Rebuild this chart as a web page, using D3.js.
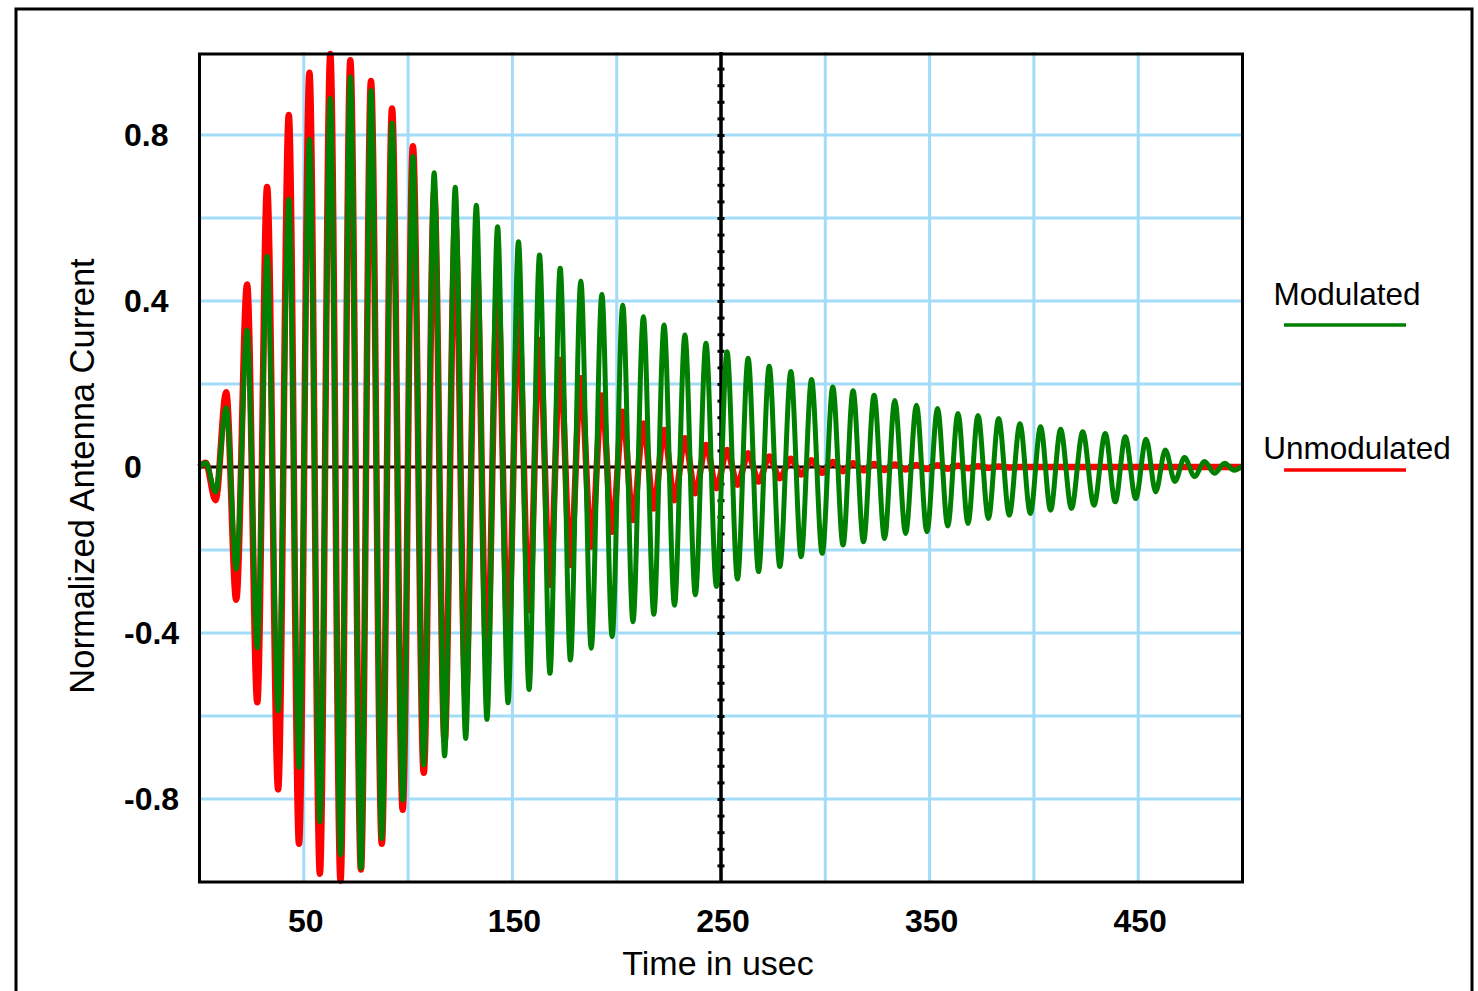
<!DOCTYPE html>
<html>
<head>
<meta charset="utf-8">
<script src="https://cdn.jsdelivr.net/npm/d3@7"></script>
<style>
body { margin: 0; background: #fff; }
text { font-family: "Liberation Sans", Arial, sans-serif; }
</style>
</head>
<body>
<script>
// times of each swing (usec) and the swing values
var times = [0, 3, 7.7, 12.8, 17.6, 22.8, 27.7, 32.4, 37.7, 42.8,
	47.7, 52.7, 57.7, 62.7, 67.6, 72.3, 77.4, 82.2, 87.4, 92.3,
	97.4, 102.3, 107.5, 112.5, 117.5, 122.6, 127.6, 132.7, 137.8, 142.9,
	147.9, 152.9, 158, 163, 168, 172.9, 177.8, 182.8, 187.8, 192.9,
	197.8, 202.9, 207.8, 212.8, 217.8, 222.7, 227.7, 232.7, 237.7, 242.8,
	247.8, 252.9, 257.9, 263, 268, 273.1, 278.2, 283.5, 288.4, 293.4,
	298.5, 303.6, 308.5, 313.3, 318.3, 323.4, 328.4, 333.3, 338.5, 343.7,
	348.7, 353.8, 358.7, 363.6, 368.4, 373.2, 378.2, 383.1, 388.2, 393.3,
	398.3, 403.2, 408, 412.8, 418, 423.4, 428.8, 434.2, 439, 443.8,
	448.8, 453.8, 458.4, 463, 467.6, 472.2, 477, 481.8, 486.6, 491.4,
	496, 500];

var modulated = [0, 0.01, -0.06, 0.143, -0.246, 0.33, -0.436, 0.508, -0.587, 0.645,
	-0.724, 0.79, -0.855, 0.888, -0.934, 0.94, -0.967, 0.907, -0.895, 0.829,
	-0.803, 0.748, -0.718, 0.709, -0.696, 0.674, -0.654, 0.631, -0.608, 0.579,
	-0.568, 0.543, -0.536, 0.511, -0.497, 0.479, -0.465, 0.448, -0.437, 0.416,
	-0.409, 0.39, -0.373, 0.362, -0.355, 0.342, -0.333, 0.318, -0.308, 0.298,
	-0.288, 0.278, -0.27, 0.262, -0.252, 0.243, -0.24, 0.23, -0.216, 0.211,
	-0.208, 0.193, -0.188, 0.184, -0.18, 0.173, -0.172, 0.16, -0.16, 0.149,
	-0.156, 0.141, -0.142, 0.129, -0.136, 0.124, -0.124, 0.117, -0.116, 0.104,
	-0.112, 0.097, -0.104, 0.091, -0.1, 0.085, -0.092, 0.081, -0.084, 0.073,
	-0.076, 0.067, -0.06, 0.041, -0.035, 0.023, -0.023, 0.013, -0.015, 0.009,
	-0.008, 0.003];

var unmodulated = [0, 0.01, -0.08, 0.18, -0.32, 0.44, -0.567, 0.675, -0.777, 0.848,
	-0.908, 0.95, -0.98, 0.995, -0.997, 0.98, -0.97, 0.93, -0.908, 0.864,
	-0.826, 0.773, -0.737, 0.663, -0.66, 0.59, -0.56, 0.507, -0.481, 0.44,
	-0.417, 0.37, -0.345, 0.306, -0.284, 0.258, -0.236, 0.214, -0.192, 0.172,
	-0.156, 0.133, -0.128, 0.105, -0.1, 0.089, -0.08, 0.069, -0.063, 0.053,
	-0.051, 0.041, -0.043, 0.033, -0.035, 0.025, -0.027, 0.02, -0.018, 0.016,
	-0.014, 0.012, -0.01, 0.009, -0.008, 0.007, -0.007, 0.006, -0.006, 0.005,
	-0.005, 0.004, -0.004, 0.003, -0.003, 0.002, -0.002, 0.001, -0.001, 0,
	0, 0, 0, 0, 0, 0, 0, 0, 0, 0,
	0, 0, 0, 0, 0, 0, 0, 0, 0, 0,
	0, 0];

var xTicks = [50, 150, 250, 350, 450];
var yTicks = [0.8, 0.4, 0, -0.4, -0.8];
var xGrid = [50, 100, 150, 200, 250, 300, 350, 400, 450];
var yGrid = [0.8, 0.6, 0.4, 0.2, -0.2, -0.4, -0.6, -0.8];
var series = [
	{name: "Unmodulated", values: unmodulated, color: "#ff0000", width: 6.5},
	{name: "Modulated", values: modulated, color: "#008000", width: 5}
];

var W = 1478, H = 991;
var pLeft = 199.5, pRight = 1242.5, pTop = 52, pBottom = 882;

var x = d3.scaleLinear().domain([0, 500]).range([pLeft, pRight]);
var y = d3.scaleLinear().domain([-1, 1]).range([pBottom, pTop]);

var svg = d3.select("body").append("svg")
	.attr("width", W)
	.attr("height", H);

// outer frame (runs off the bottom of the page)
svg.append("rect")
	.attr("x", 16).attr("y", 9)
	.attr("width", 1456).attr("height", 1000)
	.style("fill", "none").style("stroke", "#000").style("stroke-width", 3);

// grid
svg.selectAll(".vgrid").data(xGrid).enter().append("line")
	.attr("class", "vgrid")
	.attr("x1", d => x(d)).attr("x2", d => x(d))
	.attr("y1", pTop).attr("y2", pBottom)
	.style("stroke", "#a3dcf7").style("stroke-width", 3);
svg.selectAll(".hgrid").data(yGrid).enter().append("line")
	.attr("class", "hgrid")
	.attr("x1", pLeft).attr("x2", pRight)
	.attr("y1", d => y(d)).attr("y2", d => y(d))
	.style("stroke", "#a3dcf7").style("stroke-width", 3);

// axes through the middle: zero line and the 250 usec line, both with minor ticks
var zeroAxis = svg.append("g")
	.attr("transform", "translate(0," + y(0) + ")")
	.call(d3.axisBottom(x).tickValues(d3.range(10, 500, 10)).tickSize(3).tickFormat(""));
zeroAxis.select(".domain").remove();
zeroAxis.selectAll(".tick line").attr("y1", -3).style("stroke-width", 2);
svg.append("line")
	.attr("x1", pLeft).attr("x2", pRight)
	.attr("y1", y(0)).attr("y2", y(0))
	.style("stroke", "#000").style("stroke-width", 3);

var midAxis = svg.append("g")
	.attr("transform", "translate(" + x(250) + ",0)")
	.call(d3.axisLeft(y).tickValues(d3.range(-0.96, 1, 0.04)).tickSize(3.5).tickFormat(""));
midAxis.select(".domain").remove();
midAxis.selectAll(".tick line").attr("x1", 3.5).style("stroke-width", 3);
svg.append("line")
	.attr("x1", x(250)).attr("x2", x(250))
	.attr("y1", pTop).attr("y2", pBottom)
	.style("stroke", "#000").style("stroke-width", 3.5);

// traces
var line = d3.line()
	.x(function(d, i) { return x(times[i]); })
	.y(function(d) { return y(d); })
	.curve(d3.curveMonotoneX);

svg.selectAll(".trace").data(series).enter().append("path")
	.attr("class", "trace")
	.attr("d", d => line(d.values))
	.style("fill", "none")
	.style("stroke", d => d.color)
	.style("stroke-width", d => d.width)
	.style("stroke-linejoin", "round");

// plot frame
svg.append("rect")
	.attr("x", pLeft).attr("y", 54)
	.attr("width", pRight - pLeft).attr("height", pBottom - 54)
	.style("fill", "none").style("stroke", "#000").style("stroke-width", 3);

// tick labels
svg.selectAll(".ylab").data(yTicks).enter().append("text")
	.attr("x", 124).attr("y", d => y(d))
	.attr("dy", "0.35em")
	.style("font-size", "32px").style("font-weight", "bold")
	.text(d => d);
svg.selectAll(".xlab").data(xTicks).enter().append("text")
	.attr("x", d => x(d) + 2).attr("y", 932)
	.attr("text-anchor", "middle")
	.style("font-size", "32px").style("font-weight", "bold")
	.text(d => d);

// axis titles
svg.append("text")
	.attr("x", 718).attr("y", 975)
	.attr("text-anchor", "middle")
	.style("font-size", "34px")
	.text("Time in usec");
svg.append("text")
	.attr("transform", "translate(94,476) rotate(-90)")
	.attr("text-anchor", "middle")
	.style("font-size", "34.5px")
	.text("Normalized Antenna Current");

// legend
var legend = [
	{name: "Modulated", color: "#008000", ty: 305, ly: 325, tx: 1347},
	{name: "Unmodulated", color: "#ff0000", ty: 459, ly: 470, tx: 1357}
];
legend.forEach(function(e) {
	svg.append("text")
		.attr("x", e.tx).attr("y", e.ty)
		.attr("text-anchor", "middle")
		.style("font-size", "31.5px")
		.text(e.name);
	svg.append("line")
		.attr("x1", 1284).attr("x2", 1406)
		.attr("y1", e.ly).attr("y2", e.ly)
		.style("stroke", e.color).style("stroke-width", 3.5);
});
</script>
</body>
</html>
